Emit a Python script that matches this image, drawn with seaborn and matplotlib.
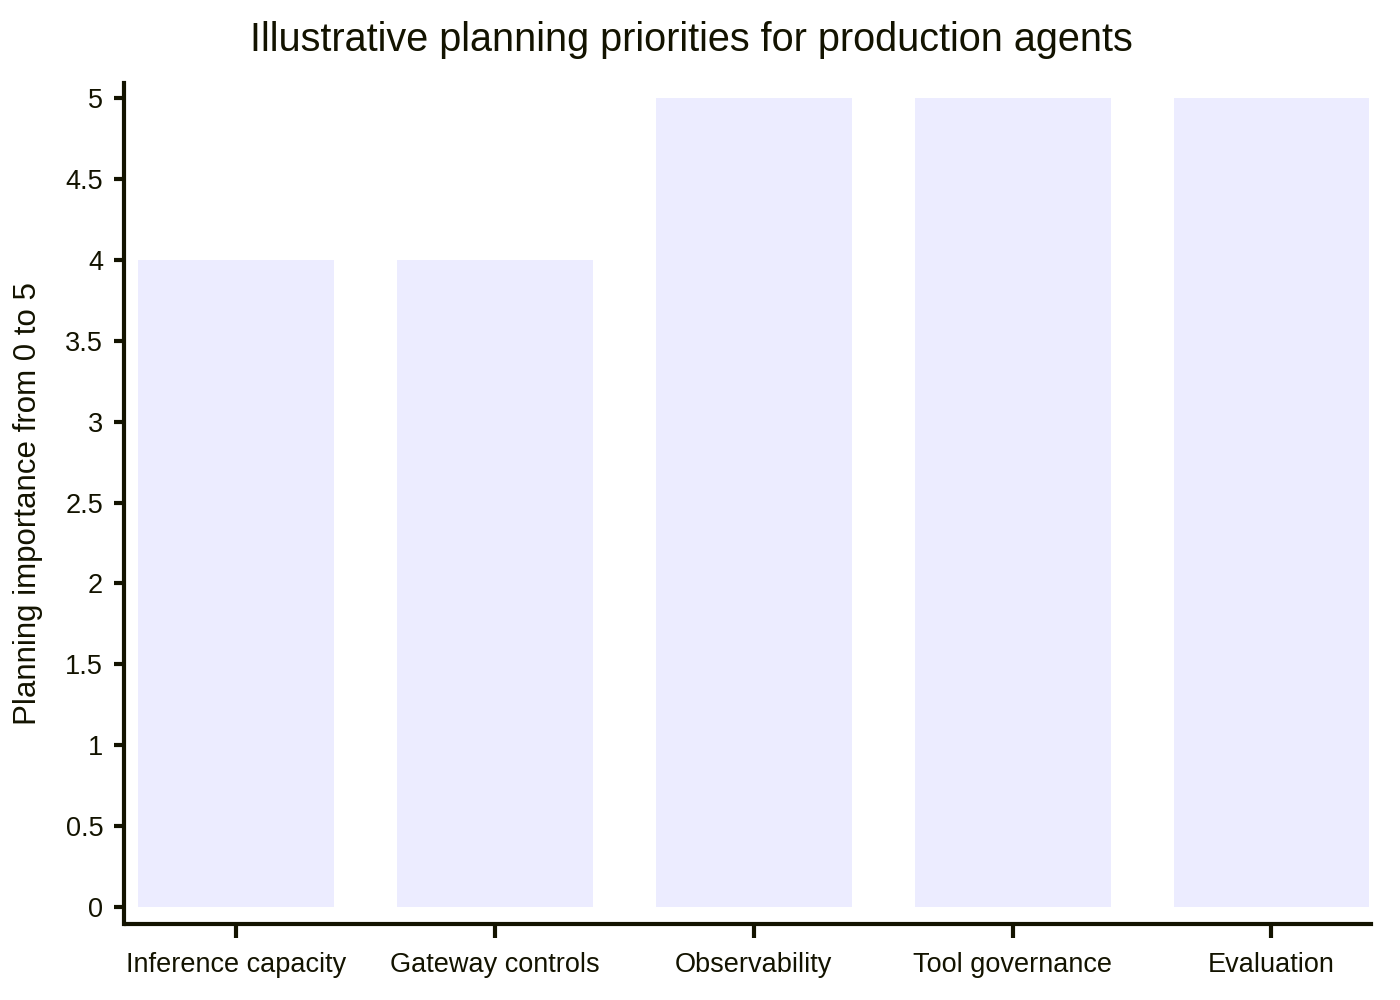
import matplotlib
matplotlib.use('Agg')
import matplotlib.pyplot as plt
import seaborn as sns
import pandas as pd

# --- Data ---
categories = ['Inference capacity', 'Gateway controls', 'Observability', 'Tool governance', 'Evaluation']
importance = [4, 4, 5, 5, 5]
y_ticks = [0, 0.5, 1, 1.5, 2, 2.5, 3, 3.5, 4, 4.5, 5]
y_tick_labels = ['0', '0.5', '1', '1.5', '2', '2.5', '3', '3.5', '4', '4.5', '5']

df = pd.DataFrame({'category': categories, 'importance': importance})

sns.set_theme(style='white')
plt.rcParams['font.family'] = ['Liberation Sans', 'DejaVu Sans']

axis_color = '#131300'
bar_color = '#ECECFF'

fig = plt.figure(figsize=(14, 10), dpi=100)
ax = fig.add_axes([0.0886, 0.076, 0.8904, 0.841])

sns.barplot(data=df, x='category', y='importance', color=bar_color,
            width=0.757, saturation=1, ax=ax, edgecolor='none')

ax.set_xlim(-0.434, 4.383)
ax.set_ylim(-0.105, 5.093)
ax.set_yticks(y_ticks)
ax.set_yticklabels(y_tick_labels)

ax.set_xlabel('')
ax.set_ylabel('Planning importance from 0 to 5', fontsize=22.5, color=axis_color, labelpad=16)

for side in ['top', 'right']:
    ax.spines[side].set_visible(False)
for side in ['left', 'bottom']:
    ax.spines[side].set_color(axis_color)
    ax.spines[side].set_linewidth(3)
ax.spines['bottom'].set_bounds(-0.434 + 0.008, 4.383)

ax.tick_params(axis='y', length=7, width=3, color=axis_color, labelcolor=axis_color,
               labelsize=19.5, pad=8, left=True)
ax.tick_params(axis='x', length=10, width=3, color=axis_color, labelcolor=axis_color,
               labelsize=19.5, pad=10.5, bottom=True)

fig.suptitle('Illustrative planning priorities for production agents',
             fontsize=28.5, color=axis_color, x=0.494, y=0.979)

fig.savefig('out.png', dpi=100)
